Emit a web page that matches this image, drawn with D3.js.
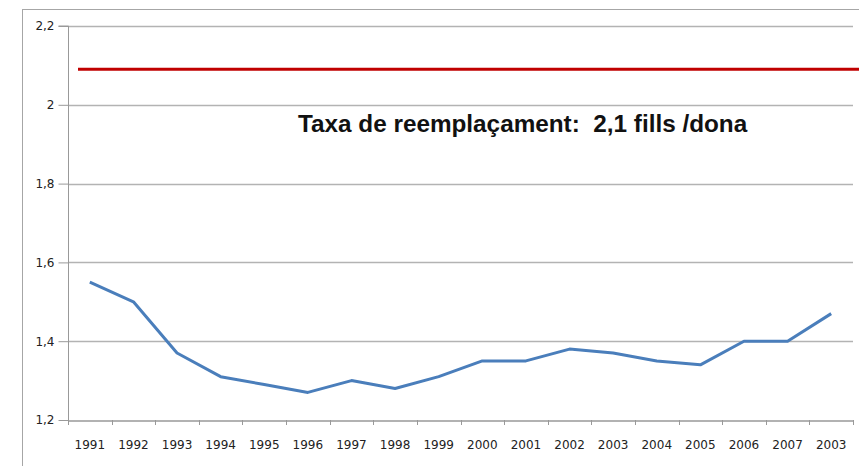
<!DOCTYPE html>
<html>
<head>
<meta charset="utf-8">
<script src="https://cdn.jsdelivr.net/npm/d3@7"></script>
<style>
  html, body { margin: 0; padding: 0; background: #fff; }
  svg { display: block; }
  .tick text { font-family: "DejaVu Sans", sans-serif; font-size: 12px; fill: #222; }
</style>
</head>
<body>
<div id="chart"></div>
<script>
'use strict';

// Dades: taxa de fecunditat 1991-2008 (etiquetes tal com surten al gràfic)
const years = ['1991', '1992', '1993', '1994', '1995', '1996', '1997', '1998', '1999',
  '2000', '2001', '2002', '2003', '2004', '2005', '2006', '2007', '2003'];
const fertility = [1.55, 1.50, 1.37, 1.31, 1.29, 1.27, 1.30, 1.28, 1.31,
  1.35, 1.35, 1.38, 1.37, 1.35, 1.34, 1.40, 1.40, 1.47];
const yTicks = [1.2, 1.4, 1.6, 1.8, 2.0, 2.2];
const replacementRate = [2.09];
const noteText = ['Taxa de reemplaçament:  2,1 fills /dona'];

const width = 859;
const height = 466;
const margin = { top: 26, right: 6, bottom: 46, left: 68 };

const svg = d3.select('#chart')
  .append('svg')
  .attr('width', width)
  .attr('height', height);

// marc exterior del gràfic
svg.append('rect')
  .attr('x', 22.5)
  .attr('y', 9.5)
  .attr('width', width)
  .attr('height', height)
  .attr('fill', 'none')
  .attr('stroke', '#a6a6a6')
  .attr('stroke-width', 1);

const x = d3.scaleBand()
  .domain(d3.range(years.length))
  .range([margin.left, width - margin.right]);

const y = d3.scaleLinear()
  .domain([1.2, 2.2])
  .range([height - margin.bottom, margin.top]);

const fmt = d => d3.format('.1f')(d).replace('.0', '').replace('.', ',');

// graella horitzontal
svg.append('g')
  .selectAll('line')
  .data(yTicks.slice(1))
  .join('line')
  .attr('x1', margin.left)
  .attr('x2', width - margin.right)
  .attr('y1', d => Math.round(y(d)) + 0.5)
  .attr('y2', d => Math.round(y(d)) + 0.5)
  .attr('stroke', '#b3b3b3')
  .attr('stroke-width', 1.5);

// eix Y
const yAxis = svg.append('g')
  .attr('transform', `translate(${margin.left + 0.5},0)`)
  .call(d3.axisLeft(y).tickValues(yTicks).tickFormat(fmt).tickSize(10).tickPadding(4));
yAxis.selectAll('line, path').attr('stroke', '#999');
yAxis.select('.domain').attr('d', `M-10,${y(2.2)}H0V${y(1.2)}`);

// eix X
const xAxis = svg.append('g')
  .attr('transform', `translate(0,${Math.round(y(1.2)) + 0.5})`)
  .call(d3.axisBottom(x).tickFormat(i => years[i]).tickSize(0).tickPadding(20));
xAxis.select('.domain').attr('stroke', '#999').attr('stroke-width', 1.5);

// marques de separació entre categories
svg.append('g')
  .selectAll('line')
  .data(d3.range(years.length + 1))
  .join('line')
  .attr('x1', i => Math.round(margin.left + i * x.step()) + 0.5)
  .attr('x2', i => Math.round(margin.left + i * x.step()) + 0.5)
  .attr('y1', y(1.2))
  .attr('y2', y(1.2) + 5)
  .attr('stroke', '#999');

// línia de reemplaçament
svg.append('g')
  .selectAll('line')
  .data(replacementRate)
  .join('line')
  .attr('x1', 78)
  .attr('x2', width)
  .attr('y1', d => y(d))
  .attr('y2', d => y(d))
  .attr('stroke', '#c00000')
  .attr('stroke-width', 3);

// sèrie de fecunditat
const line = d3.line()
  .x((d, i) => x(i) + x.bandwidth() / 2)
  .y(d => y(d));

svg.append('path')
  .datum(fertility)
  .attr('d', line)
  .attr('fill', 'none')
  .attr('stroke', '#4a7ebb')
  .attr('stroke-width', 3)
  .attr('stroke-linejoin', 'round');

// text explicatiu
svg.append('g')
  .selectAll('text')
  .data(noteText)
  .join('text')
  .attr('x', 298)
  .attr('y', 132)
  .attr('font-family', '"Liberation Sans", Arial, sans-serif')
  .attr('font-weight', 'bold')
  .attr('font-size', 24.3)
  .attr('fill', '#111')
  .style('white-space', 'pre')
  .text(d => d);
</script>
</body>
</html>
